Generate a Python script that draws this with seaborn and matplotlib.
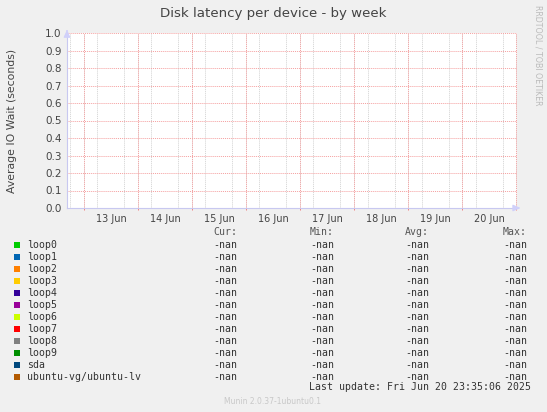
import numpy as np
import pandas as pd
import matplotlib
matplotlib.use("Agg")
import matplotlib.pyplot as plt
import matplotlib.dates as mdates
import seaborn as sns

# data (every value in this graph is NaN)
devices = ['loop0', 'loop1', 'loop2', 'loop3', 'loop4', 'loop5', 'loop6',
           'loop7', 'loop8', 'loop9', 'sda', 'ubuntu-vg/ubuntu-lv']
colors = ['#00CC00', '#0066B3', '#FF8000', '#FFCC00', '#330099', '#990099',
          '#CCFF00', '#FF0000', '#808080', '#008F00', '#00487D', '#B35A00']
cur_vals = [np.nan] * len(devices)
min_vals = [np.nan] * len(devices)
avg_vals = [np.nan] * len(devices)
max_vals = [np.nan] * len(devices)
times = pd.to_datetime(['2025-06-12 16:30', '2025-06-21 00:25'])
y_ticks = [0.0, 0.1, 0.2, 0.3, 0.4, 0.5, 0.6, 0.7, 0.8, 0.9, 1.0]
last_update = 'Last update: Fri Jun 20 23:35:06 2025'

sns.set_style("white")
plt.rcParams['font.family'] = ['DejaVu Sans']

bg = '#F0F0F0'
fig = plt.figure(figsize=(5.47, 4.12), dpi=100, facecolor=bg)
ax = fig.add_axes([67 / 547, 1 - 208 / 412, 450 / 547, 175 / 412])
ax.set_facecolor('white')

rows = []
for d in devices:
    for t in times:
        rows.append({'time': t, 'device': d, 'value': np.nan})
df = pd.DataFrame(rows)
sns.lineplot(data=df, x='time', y='value', hue='device', palette=colors,
             legend=False, ax=ax)

ax.set_xlim(times[0], times[-1])
ax.set_ylim(0, 1.0)

# grid: grey every 6h, red at day boundaries and at every 0.1
ax.xaxis.set_minor_locator(mdates.HourLocator(byhour=[0, 6, 12, 18]))
ax.xaxis.set_major_locator(mdates.HourLocator(byhour=[12]))
ax.xaxis.set_major_formatter(mdates.DateFormatter('%d Jun'))
ax.grid(which='minor', axis='x', color='#D2D2D2', linestyle=(0, (1, 1)), linewidth=0.7)
ax.grid(which='major', axis='x', visible=False)
days = pd.date_range(times[0].ceil('D'), times[-1], freq='D')
ax.vlines(days, 0, 1, transform=ax.get_xaxis_transform(), colors='#F5A0A0',
          linestyles=(0, (1, 1)), linewidth=0.7, zorder=1.5)
ax.vlines(days, -0.012, 0.0, transform=ax.get_xaxis_transform(), colors='#F08080',
          linewidth=0.7, clip_on=False)
ax.set_yticks(y_ticks)
ax.yaxis.set_major_formatter(matplotlib.ticker.FormatStrFormatter('%.1f'))
ax.grid(which='major', axis='y', color='#F5A0A0', linestyle=(0, (1, 1)), linewidth=0.7)

ax.tick_params(axis='x', which='major', length=0, labelsize=7, colors='#444444', pad=4)
ax.tick_params(axis='x', which='minor', length=2, color='#CFCFCF')
ax.tick_params(axis='y', length=2, labelsize=7.5, colors='#444444', pad=2)
ax.tick_params(axis='y', color='#CFCFCF')

for s in ['top', 'right']:
    ax.spines[s].set_visible(False)
for s in ['left', 'bottom']:
    ax.spines[s].set_color('#C8C8F0')
    ax.spines[s].set_linewidth(0.8)
# axis arrows
ax.annotate('', xy=(1.014, 0), xytext=(0.995, 0), xycoords='axes fraction',
            annotation_clip=False,
            arrowprops=dict(arrowstyle='-|>,head_length=0.45,head_width=0.2',
                            color='#D0D0FA', lw=0.8, mutation_scale=10))
ax.annotate('', xy=(0, 1.035), xytext=(0, 0.995), xycoords='axes fraction',
            annotation_clip=False,
            arrowprops=dict(arrowstyle='-|>,head_length=0.45,head_width=0.2',
                            color='#D0D0FA', lw=0.8, mutation_scale=10))

ax.set_xlabel('')
ax.set_ylabel('Average IO Wait (seconds)', fontsize=7.8, color='#444444')
ax.yaxis.set_label_coords(-0.112, 0.5)

fig.text(273 / 547, 1 - 13 / 412, 'Disk latency per device - by week', ha='center',
         va='center', fontsize=9.6, color='#444444')
fig.text(538 / 547, 1 - 5 / 412, 'RRDTOOL / TOBI OETIKER', rotation=270, ha='center',
         va='top', fontsize=5.7, color='#BBBBBB')

# legend table
mono = 'DejaVu Sans Mono'
fs = 7.1
H = 412.0
def fy(py):
    return 1 - py / H

for x, lab in [(237, 'Cur:'), (334, 'Min:'), (429, 'Avg:'), (527, 'Max:')]:
    fig.text(x / 547, fy(232), lab, ha='right', va='center', family=mono, fontsize=fs, color='#555555')

def fmt(v):
    return '-nan' if np.isnan(v) else '%.2f' % v

for i, d in enumerate(devices):
    py = 245 + 12 * i
    fig.patches.append(matplotlib.patches.Rectangle((14 / 547, fy(py + 3)), 6 / 547, 6 / H,
                       transform=fig.transFigure, facecolor=colors[i], edgecolor='none'))
    fig.text(27 / 547, fy(py), d, ha='left', va='center', family=mono, fontsize=fs, color='#333333')
    for x, vals in [(237, cur_vals), (334, min_vals), (429, avg_vals), (527, max_vals)]:
        fig.text(x / 547, fy(py), fmt(vals[i]), ha='right', va='center', family=mono,
                 fontsize=fs, color='#333333')

fig.text(531 / 547, fy(387), last_update, ha='right', va='center', family=mono,
         fontsize=fs, color='#333333')
fig.text(273 / 547, fy(401), 'Munin 2.0.37-1ubuntu0.1', ha='center', va='center',
         fontsize=5.5, color='#C8C8C8')

fig.savefig('out.png', dpi=100, facecolor=bg)
